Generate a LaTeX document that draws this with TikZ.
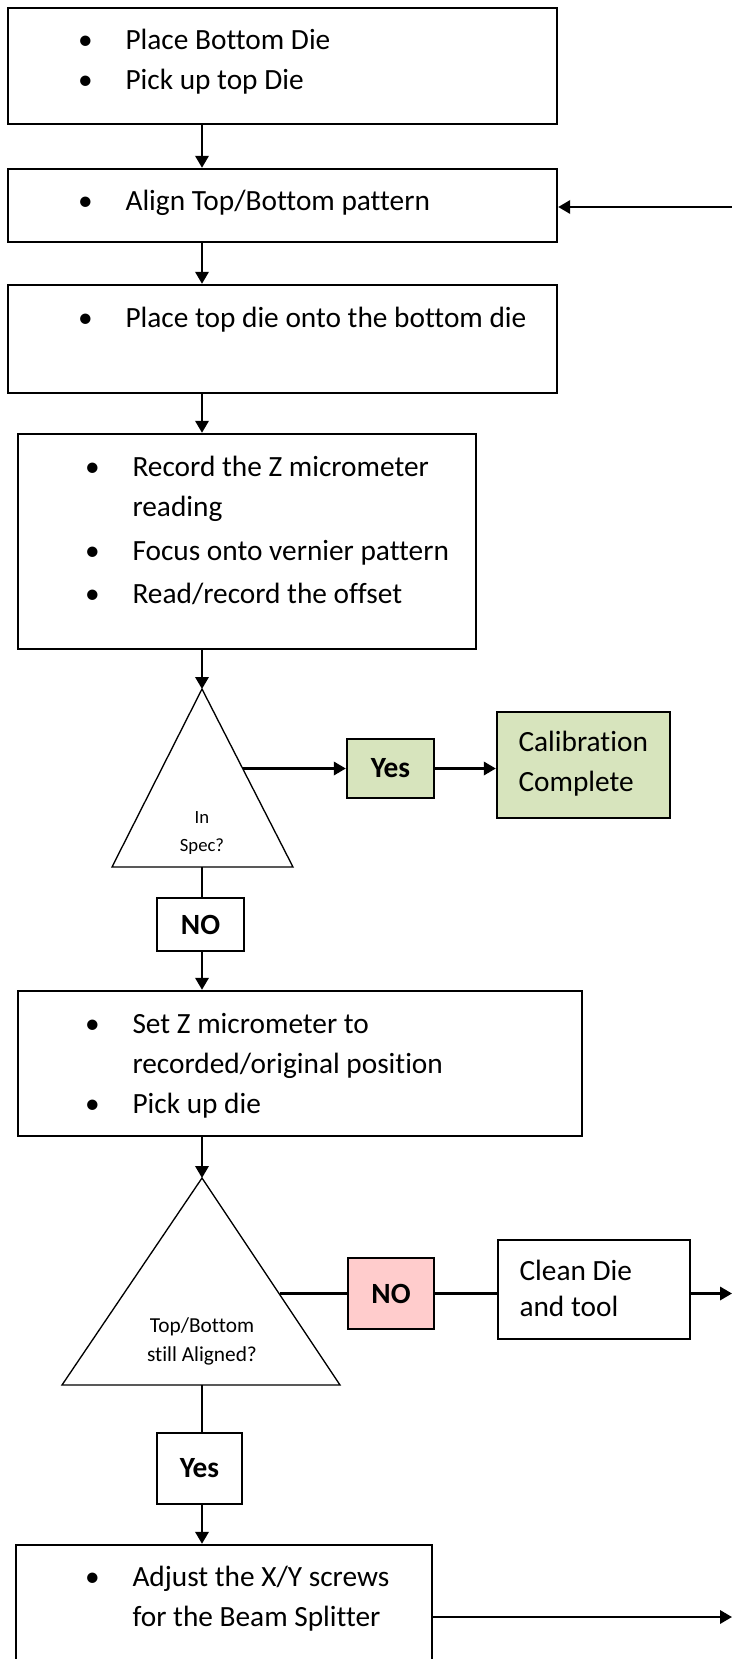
\documentclass[tikz,border=0pt]{standalone}
\usepackage{fontspec}
\setmainfont{Carlito}[Ligatures={NoCommon,NoContextual}]
\usepackage{tikz}
\usetikzlibrary{positioning, arrows.meta, fit}
\definecolor{passgreen}{RGB}{215,228,189}
\definecolor{failpink}{RGB}{255,204,204}
\newcommand{\bul}{\makebox[0pt]{\textbullet}}
\newenvironment{steplist}{\begin{tabular}[t]{@{}l@{\hspace{15pt}}l@{}}}{\end{tabular}}

\begin{document}
\begin{tikzpicture}[x=0.375pt, y=-0.375pt,
  stepbox/.style={draw, line width=0.9pt, inner sep=0pt},
  answer/.style={stepbox, font=\fontsize{11}{15}\selectfont\bfseries},
  steptext/.style={anchor=base west, inner sep=0pt, font=\fontsize{11}{15}\selectfont},
  asktext/.style={anchor=base, inner sep=0pt},
  decision/.style={draw, line width=0.5pt},
  flow/.style={line width=0.9pt, -{Triangle[length=4.5pt, width=5pt]}},
  link/.style={line width=0.9pt},
]
  \useasboundingbox (0,0) rectangle (732,1659);
  \coordinate (spine) at (202,0);

  % steps before the first check
  \node[stepbox, fit={(8,8) (557,124)}] (pickup) {};
  \node[steptext] (pickuptxt) at (85,50)
    {\begin{steplist}\bul & Place Bottom Die\\ \bul & Pick up top Die\end{steplist}};
  \node[stepbox, fit={(8,169) (557,242)}] (align) {};
  \node[steptext] (aligntxt) at (85,211)
    {\begin{steplist}\bul & Align Top/Bottom pattern\end{steplist}};
  \node[stepbox, fit={(8,285) (557,393)}] (place) {};
  \node[steptext] (placetxt) at (85,327)
    {\begin{steplist}\bul & Place top die onto the bottom die\end{steplist}};
  \node[stepbox, fit={(18,434) (476,649)}] (record) {};
  \node[steptext] (recordtxt) at (92,476)
    {\begin{steplist}\bul & Record the Z micrometer\\ & reading\\[1.6pt]
     \bul & Focus onto vernier pattern\\[1.2pt] \bul & Read/record the offset\end{steplist}};

  % first check
  \coordinate (spectop) at (202,689);
  \coordinate (specbase) at (202,867);
  \coordinate (specside) at (243,768.5);
  \draw[decision] (spectop) -- (293,867) -- (112,867) -- cycle;
  \node[asktext, font=\fontsize{7}{10.5}\selectfont] (spectxt) at (202,823)
    {\begin{tabular}[t]{@{}c@{}}In\\Spec?\end{tabular}};
  \node[answer, fill=passgreen, minimum width=87*0.375pt, minimum height=59*0.375pt]
    (yesspec) at (390.5,768.5) {Yes};
  \node[stepbox, fill=passgreen, fit={(497,712) (670,818)}] (done) {};
  \node[steptext] (donetxt) at (518,751)
    {\begin{tabular}[t]{@{}l@{}}Calibration\\Complete\end{tabular}};
  \node[answer, minimum width=87*0.375pt, minimum height=53*0.375pt]
    (nospec) at (200.5,924.5) {NO};

  % reset and second check
  \node[stepbox, fit={(18,991) (582,1136)}] (reset) {};
  \node[steptext] (resettxt) at (92,1033)
    {\begin{steplist}\bul & Set Z micrometer to\\ & recorded/original position\\
     \bul & Pick up die\end{steplist}};
  \coordinate (aligntop) at (202,1178);
  \coordinate (alignbase) at (202,1385);
  \coordinate (alignside) at (279.6,1293.5);
  \draw[decision] (aligntop) -- (340,1385) -- (62,1385) -- cycle;
  \node[asktext, font=\fontsize{8}{11}\selectfont] (aligntxt2) at (202,1332)
    {\begin{tabular}[t]{@{}c@{}}Top/Bottom\\still Aligned?\end{tabular}};
  \node[answer, fill=failpink, minimum width=86*0.375pt, minimum height=71*0.375pt]
    (noalign) at (391,1293.5) {NO};
  \node[stepbox, fit={(498,1240) (690,1339)}] (clean) {};
  \node[steptext] (cleantxt) at (519,1280)
    {\begin{tabular}[t]{@{}l@{}}Clean Die\\[-1.5pt]and tool\end{tabular}};
  \node[answer, minimum width=85*0.375pt, minimum height=71*0.375pt]
    (yesalign) at (199.5,1468.5) {Yes};
  \node[stepbox, fit={(16,1545) (432,1665)}] (adjust) {};
  \node[steptext] (adjusttxt) at (92,1586)
    {\begin{steplist}\bul & Adjust the X/Y screws\\ & for the Beam Splitter\end{steplist}};

  % loop ends at the page edge
  \coordinate (loopin) at (732,207);
  \coordinate (loopclean) at (732,1293.5);
  \coordinate (loopadjust) at (732,1617);

  % connectors
  \draw[flow] (pickup.south -| spine) -- (align.north -| spine);
  \draw[flow] (align.south -| spine) -- (place.north -| spine);
  \draw[flow] (place.south -| spine) -- (record.north -| spine);
  \draw[flow] (record.south -| spine) -- (spectop);
  \draw[flow] (specside) -- (yesspec.west);
  \draw[flow] (yesspec.east) -- (done.west |- yesspec.east);
  \draw[link] (specbase) -- (nospec.north -| spine);
  \draw[flow] (nospec.south -| spine) -- (reset.north -| spine);
  \draw[flow] (reset.south -| spine) -- (aligntop);
  \draw[link] (alignside) -- (noalign.west);
  \draw[link] (noalign.east) -- (clean.west |- noalign.east);
  \draw[flow] (clean.east |- alignside) -- (loopclean);
  \draw[link] (alignbase) -- (yesalign.north -| spine);
  \draw[flow] (yesalign.south -| spine) -- (adjust.north -| spine);
  \draw[flow] (adjust.east |- loopadjust) -- (loopadjust);
  \draw[flow] (loopin) -- (align.east |- loopin);
\end{tikzpicture}
\end{document}
